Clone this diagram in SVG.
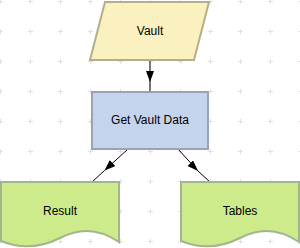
<svg xmlns="http://www.w3.org/2000/svg" width="300" height="248" viewBox="0 0 300 248">
<style>
.lbl{font-family:"Liberation Sans",Arial,sans-serif;font-size:12px;fill:#000;text-anchor:middle}
.doc{fill:#cdeb8b;stroke:#a3b58c;stroke-width:2}
.edge{fill:none;stroke:#000;stroke-width:1}
</style>
<defs>
<pattern id="grid" patternUnits="userSpaceOnUse" x="-15" y="-14" width="30" height="30">
<path d="M13,15.5 H18 M15.5,13 V18" stroke="#e0e0e0" stroke-width="1" fill="none"/>
</pattern>
<marker id="arr" markerUnits="userSpaceOnUse" viewBox="0 0 11 8" refX="11" refY="4" markerWidth="11" markerHeight="8" orient="auto">
<path d="M0,0 L11,4 L0,8 Z" fill="#000"/>
</marker>
</defs>
<rect width="300" height="248" fill="#fff"/>
<rect width="300" height="248" fill="url(#grid)"/>
<g id="connectors">
<path class="edge" d="M150,60 L150,82 L150,92" stroke="#777" style="stroke:#777;stroke-width:2" marker-mid="url(#arr)"/>
<path class="edge" d="M128,149 L104.5,170.5 L92,182" marker-mid="url(#arr)"/>
<path class="edge" d="M178,149 L198,171 L210,182" marker-mid="url(#arr)"/>
</g>
<g id="vault">
<polygon points="105,2 209,2 194,60 90,60" fill="#fbf0c0" stroke="#b5ae8a" stroke-width="2"/>
<text class="lbl" x="150" y="35">Vault</text>
</g>
<g id="get-vault-data">
<rect x="92" y="92" width="116" height="57" fill="#c5d4ed" stroke="#9aa3b5" stroke-width="2"/>
<text class="lbl" x="150" y="124">Get Vault Data</text>
</g>
<g id="result">
<path class="doc" d="M1,182 H119 V242 Q90,222 60,238 Q30,253 1,241 Z"/>
<text class="lbl" x="60" y="215">Result</text>
</g>
<g id="tables">
<path class="doc" d="M181,182 H299 V242 Q270,222 240,238 Q210,253 181,241 Z"/>
<text class="lbl" x="240" y="215">Tables</text>
</g>
</svg>
